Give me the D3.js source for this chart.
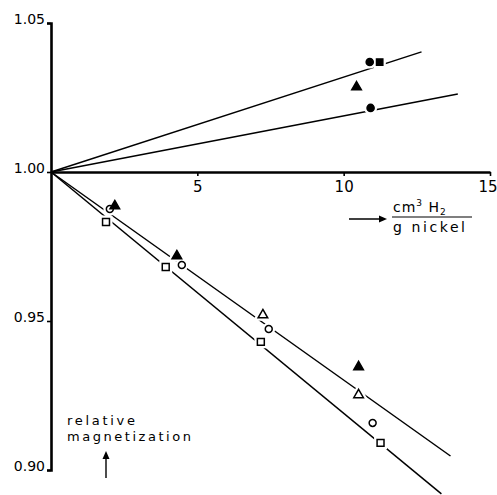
<!DOCTYPE html>
<html>
<head>
<meta charset="utf-8">
<script src="https://cdn.jsdelivr.net/npm/d3@7"></script>
<style>
  html, body { margin: 0; padding: 0; background: #fff; }
  svg { display: block; }
  text { font-family: "DejaVu Sans", sans-serif; fill: #000; }
</style>
</head>
<body>
<script>
// ---- data ----
const xTicks = [5, 10, 15];
const yTicks = [0.90, 0.95, 1.00, 1.05];

// lower (decreasing) series
const openCircleX = [2.01, 4.47, 7.44, 10.99];
const openCircleY = [0.9876, 0.9688, 0.9473, 0.9158];
const openSquareX = [1.88, 3.92, 7.17, 11.26];
const openSquareY = [0.9832, 0.9681, 0.9430, 0.9091];
const filledTriLowX = [2.18, 4.30, 10.51];
const filledTriLowY = [0.9886, 0.9718, 0.9346];
const openTriX = [7.24, 10.51];
const openTriY = [0.9520, 0.9252];

// upper (increasing) series
const filledCircleUpX = [10.89, 10.92];
const filledCircleUpY = [1.0369, 1.0215];
const filledSquareUpX = [11.23];
const filledSquareUpY = [1.0369];
const filledTriUpX = [10.44];
const filledTriUpY = [1.0285];

// fitted straight lines: [x0, y0, x1, y1]
const lineUp1 = [0, 1.00, 12.66, 1.0403];
const lineUp2 = [0, 1.00, 13.90, 1.0262];
const lineDownA = [0, 1.00, 13.65, 0.9047];
const lineDownB = [0, 1.00, 13.34, 0.8920];

// ---- drawing ----
const W = 497, H = 495;
const svg = d3.select("body").append("svg").attr("width", W).attr("height", H);

const x = d3.scaleLinear().domain([0, 15]).range([51, 490]);
const y = d3.scaleLinear().domain([0.90, 1.05]).range([470, 23]);

// y axis
const yAxis = d3.axisLeft(y).tickValues(yTicks).tickSize(4).tickSizeOuter(4)
  .tickFormat(d3.format(".2f"));
const gy = svg.append("g").attr("transform", `translate(${x(0)},0)`).call(yAxis);
gy.select(".domain").attr("stroke", "#000").attr("stroke-width", 2.6);
gy.selectAll(".tick line").attr("stroke", "#000").attr("stroke-width", 1.6);
gy.selectAll(".tick text").attr("font-size", 14).attr("x", -6).attr("dy", "0.05em")
  .style("font-family", "'DejaVu Sans', sans-serif");

// x axis at y = 1.00
const xAxis = d3.axisBottom(x).tickValues(xTicks).tickSize(4).tickSizeOuter(0)
  .tickFormat(d3.format("d"));
const gx = svg.append("g").attr("transform", `translate(0,${y(1.0)})`).call(xAxis);
gx.select(".domain").attr("stroke", "#000").attr("stroke-width", 2.6);
gx.selectAll(".tick line").attr("stroke", "#000").attr("stroke-width", 1.6);
gx.selectAll(".tick text").attr("font-size", 15).attr("y", 9)
  .attr("dx", d => d === 15 ? -2.5 : 0)
  .style("font-family", "'DejaVu Sans', sans-serif");

// lines
const lines = [lineUp1, lineUp2, lineDownA, lineDownB];
svg.append("g").selectAll("line").data(lines).join("line")
  .attr("x1", d => x(d[0])).attr("y1", d => y(d[1]))
  .attr("x2", d => x(d[2])).attr("y2", d => y(d[3]))
  .attr("stroke", "#000").attr("stroke-width", 1.5);

// markers
function pts(xs, ys) { return xs.map((v, i) => ({ x: v, y: ys[i] })); }
const series = [
  { d: pts(openCircleX, openCircleY), type: d3.symbolCircle, size: 38, fill: "#fff" },
  { d: pts(openSquareX, openSquareY), type: d3.symbolSquare, size: 48, fill: "#fff" },
  { d: pts(filledTriLowX, filledTriLowY), type: d3.symbolTriangle, size: 40, fill: "#000" },
  { d: pts(openTriX, openTriY), type: d3.symbolTriangle, size: 40, fill: "#fff" },
  { d: pts(filledCircleUpX, filledCircleUpY), type: d3.symbolCircle, size: 40, fill: "#000" },
  { d: pts(filledSquareUpX, filledSquareUpY), type: d3.symbolSquare, size: 40, fill: "#000" },
  { d: pts(filledTriUpX, filledTriUpY), type: d3.symbolTriangle, size: 40, fill: "#000" }
];
const gm = svg.append("g");
// white halos to break the lines around markers
series.forEach(s => {
  gm.append("g").selectAll("path").data(s.d).join("path")
    .attr("transform", p => `translate(${x(p.x)},${y(p.y)})`)
    .attr("d", d3.symbol().type(s.type).size(s.size))
    .attr("fill", "#fff").attr("stroke", "#fff").attr("stroke-width", 6);
});
series.forEach(s => {
  gm.append("g").selectAll("path").data(s.d).join("path")
    .attr("transform", p => `translate(${x(p.x)},${y(p.y)})`)
    .attr("d", d3.symbol().type(s.type).size(s.size))
    .attr("fill", s.fill).attr("stroke", "#000").attr("stroke-width", 1.5);
});

// x axis label (fraction) with arrow
const lab = svg.append("g");
lab.append("line").attr("x1", 349).attr("x2", 383).attr("y1", 219).attr("y2", 219)
  .attr("stroke", "#000").attr("stroke-width", 1.3);
lab.append("path").attr("d", "M387,219 L379,215.5 L379,222.5 Z").attr("fill", "#000");
const num = lab.append("text").attr("x", 393).attr("y", 212).attr("font-size", 14)
  .attr("letter-spacing", 1);
num.append("tspan").text("cm");
num.append("tspan").attr("font-size", 9).attr("dy", -6).text("3");
num.append("tspan").attr("dy", 6).text(" H");
num.append("tspan").attr("font-size", 9).attr("dy", 3).text("2");
lab.append("line").attr("x1", 392).attr("x2", 472).attr("y1", 217).attr("y2", 217)
  .attr("stroke", "#000").attr("stroke-width", 1.2);
lab.append("text").attr("x", 393).attr("y", 232).attr("font-size", 14)
  .attr("textLength", 72).attr("lengthAdjust", "spacing").text("g nickel");

// y axis label with arrow
svg.append("text").attr("x", 67).attr("y", 425).attr("font-size", 13)
  .attr("textLength", 68).attr("lengthAdjust", "spacing").text("relative");
svg.append("text").attr("x", 67).attr("y", 441).attr("font-size", 13)
  .attr("textLength", 124).attr("lengthAdjust", "spacing").text("magnetization");
svg.append("line").attr("x1", 106).attr("x2", 106).attr("y1", 478).attr("y2", 458)
  .attr("stroke", "#000").attr("stroke-width", 1.4);
svg.append("path").attr("d", "M106,451 L102.5,459 L109.5,459 Z").attr("fill", "#000");
</script>
</body>
</html>
